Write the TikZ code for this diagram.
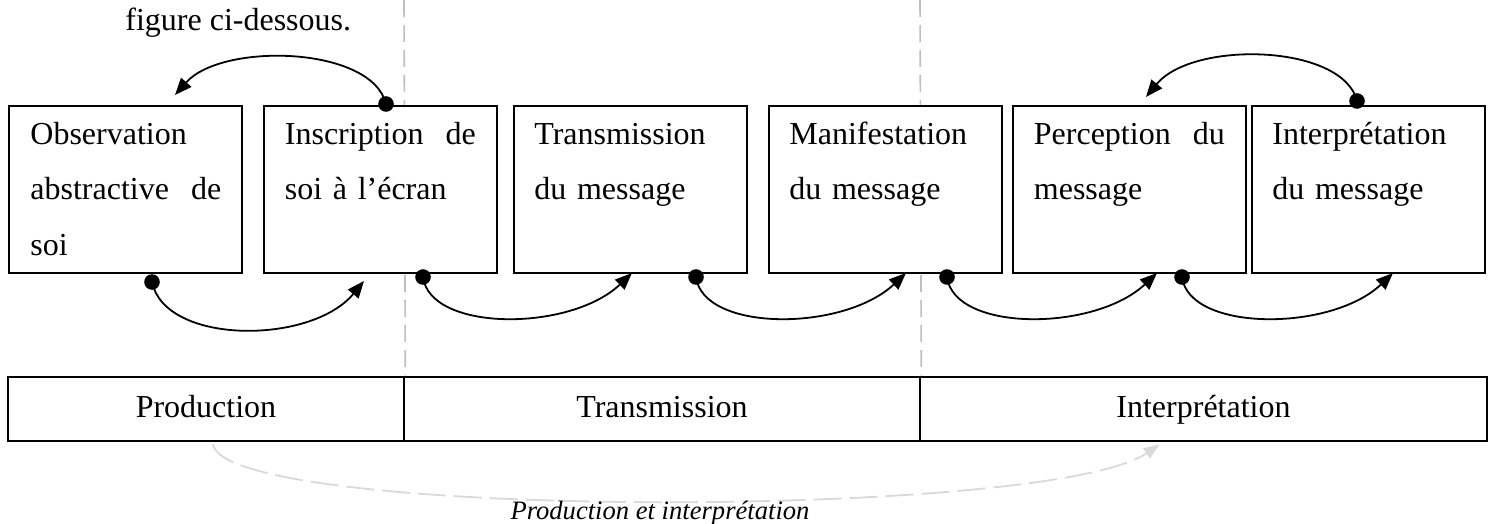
\documentclass[tikz,border=0pt]{standalone}
\usepackage{fontspec}
\setmainfont{Liberation Serif}
\usetikzlibrary{arrows.meta}

\begin{document}
\begin{tikzpicture}[x=0.5pt,y=-0.5pt,
    etape/.style={draw,line width=1pt,fill=white,minimum width=116.5pt,minimum height=83.5pt,inner sep=0pt,anchor=north west},
    txt/.style={anchor=base west,inner sep=0pt,text width=95.5pt,align=left,font=\fontsize{16pt}{27.5pt}\selectfont},
    phase/.style={draw,line width=1.3pt,minimum height=32pt,inner sep=0pt,text height=11pt,text depth=3pt,font=\fontsize{16pt}{19pt}\selectfont},
    pt/.style={circle,fill,inner sep=0pt,minimum size=7.8pt},
    fl/.style={line width=0.9pt,-{Triangle[length=8.5pt,width=6.8pt]}},
    sep/.style={gray!50,line width=0.8pt,dash pattern=on 8.5pt off 4pt}]
    \useasboundingbox (0,0) rectangle (1489,524);

    % phases
    \node[phase,minimum width=198pt] (prod) at (206,409) {Production};
    \node[phase,minimum width=258pt] (trans) at (662,409) {Transmission};
    \node[phase,minimum width=283.5pt] (interp) at (1203.5,409) {Interprétation};

    % separations
    \coordinate (s1) at (404,0);
    \coordinate (s2) at (920,0);
    \draw[sep] (s1) -- (prod.north east);
    \draw[sep] (s2) -- (trans.north east);

    \node[anchor=base west,inner sep=0pt,font=\fontsize{16pt}{19pt}\selectfont] (fig) at (125,31) {figure ci-dessous.};

    % etapes
    \node[etape] (obs) at (8,105) {};
    \node[etape] (ins) at (263,105) {};
    \node[etape] (trm) at (513,105) {};
    \node[etape] (man) at (768,105) {};
    \node[etape] (per) at (1012,105) {};
    \node[etape] (itp) at (1251,105) {};
    \node[txt] (obs-t) at (30,145) {Observation\\abstractive\hfill de\\soi};
    \node[txt] (ins-t) at (284.5,145) {Inscription\hfill de\\soi à l’écran};
    \node[txt] (trm-t) at (534,145) {Transmission\\du message};
    \node[txt] (man-t) at (789,145) {Manifestation\\du message};
    \node[txt] (per-t) at (1033.5,145) {Perception\hfill du\\message};
    \node[txt] (itp-t) at (1272,145) {Interprétation\\du message};

    % fleches du bas
    \node[pt] (p1) at (152,282) {};
    \node[pt] (p2) at (423,277) {};
    \node[pt] (p3) at (696,277) {};
    \node[pt] (p4) at (947,277) {};
    \node[pt] (p5) at (1182,277) {};
    \coordinate (f1) at (364,281);
    \coordinate (f2) at (632,273);
    \coordinate (f3) at (906,273);
    \coordinate (f4) at (1157,273);
    \coordinate (f5) at (1393,273);
    \draw[fl] (p1.center) .. controls (165,345) and (311,345) .. (f1);
    \draw[fl] (p2.center) .. controls (430,332) and (570,332) .. (f2);
    \draw[fl] (p3.center) .. controls (703,332) and (843,332) .. (f3);
    \draw[fl] (p4.center) .. controls (954,332) and (1094,332) .. (f4);
    \draw[fl] (p5.center) .. controls (1189,332) and (1331,332) .. (f5);

    % fleches du haut
    \node[pt] (q1) at (386,104) {};
    \node[pt] (q2) at (1357,101) {};
    \coordinate (g1) at (175,95);
    \coordinate (g2) at (1146,97);
    \draw[fl] (q1.center) .. controls (372,46) and (222,42) .. (g1);
    \draw[fl] (q2.center) .. controls (1343,44) and (1193,40) .. (g2);

    % production et interpretation
    \draw[gray!30,line width=0.9pt,dash pattern=on 14pt off 4pt,-{Triangle[length=8pt,width=6pt]}]
        ([xshift=3.5pt,yshift=-1pt]prod.south) .. controls (225,520) and (1050,520) .. ([xshift=-22pt,yshift=-1pt]interp.south);
    \node[anchor=base,inner sep=0pt,font=\fontsize{13.3pt}{16pt}\selectfont\itshape] (leg) at (660,519) {Production et interprétation};
\end{tikzpicture}
\end{document}
